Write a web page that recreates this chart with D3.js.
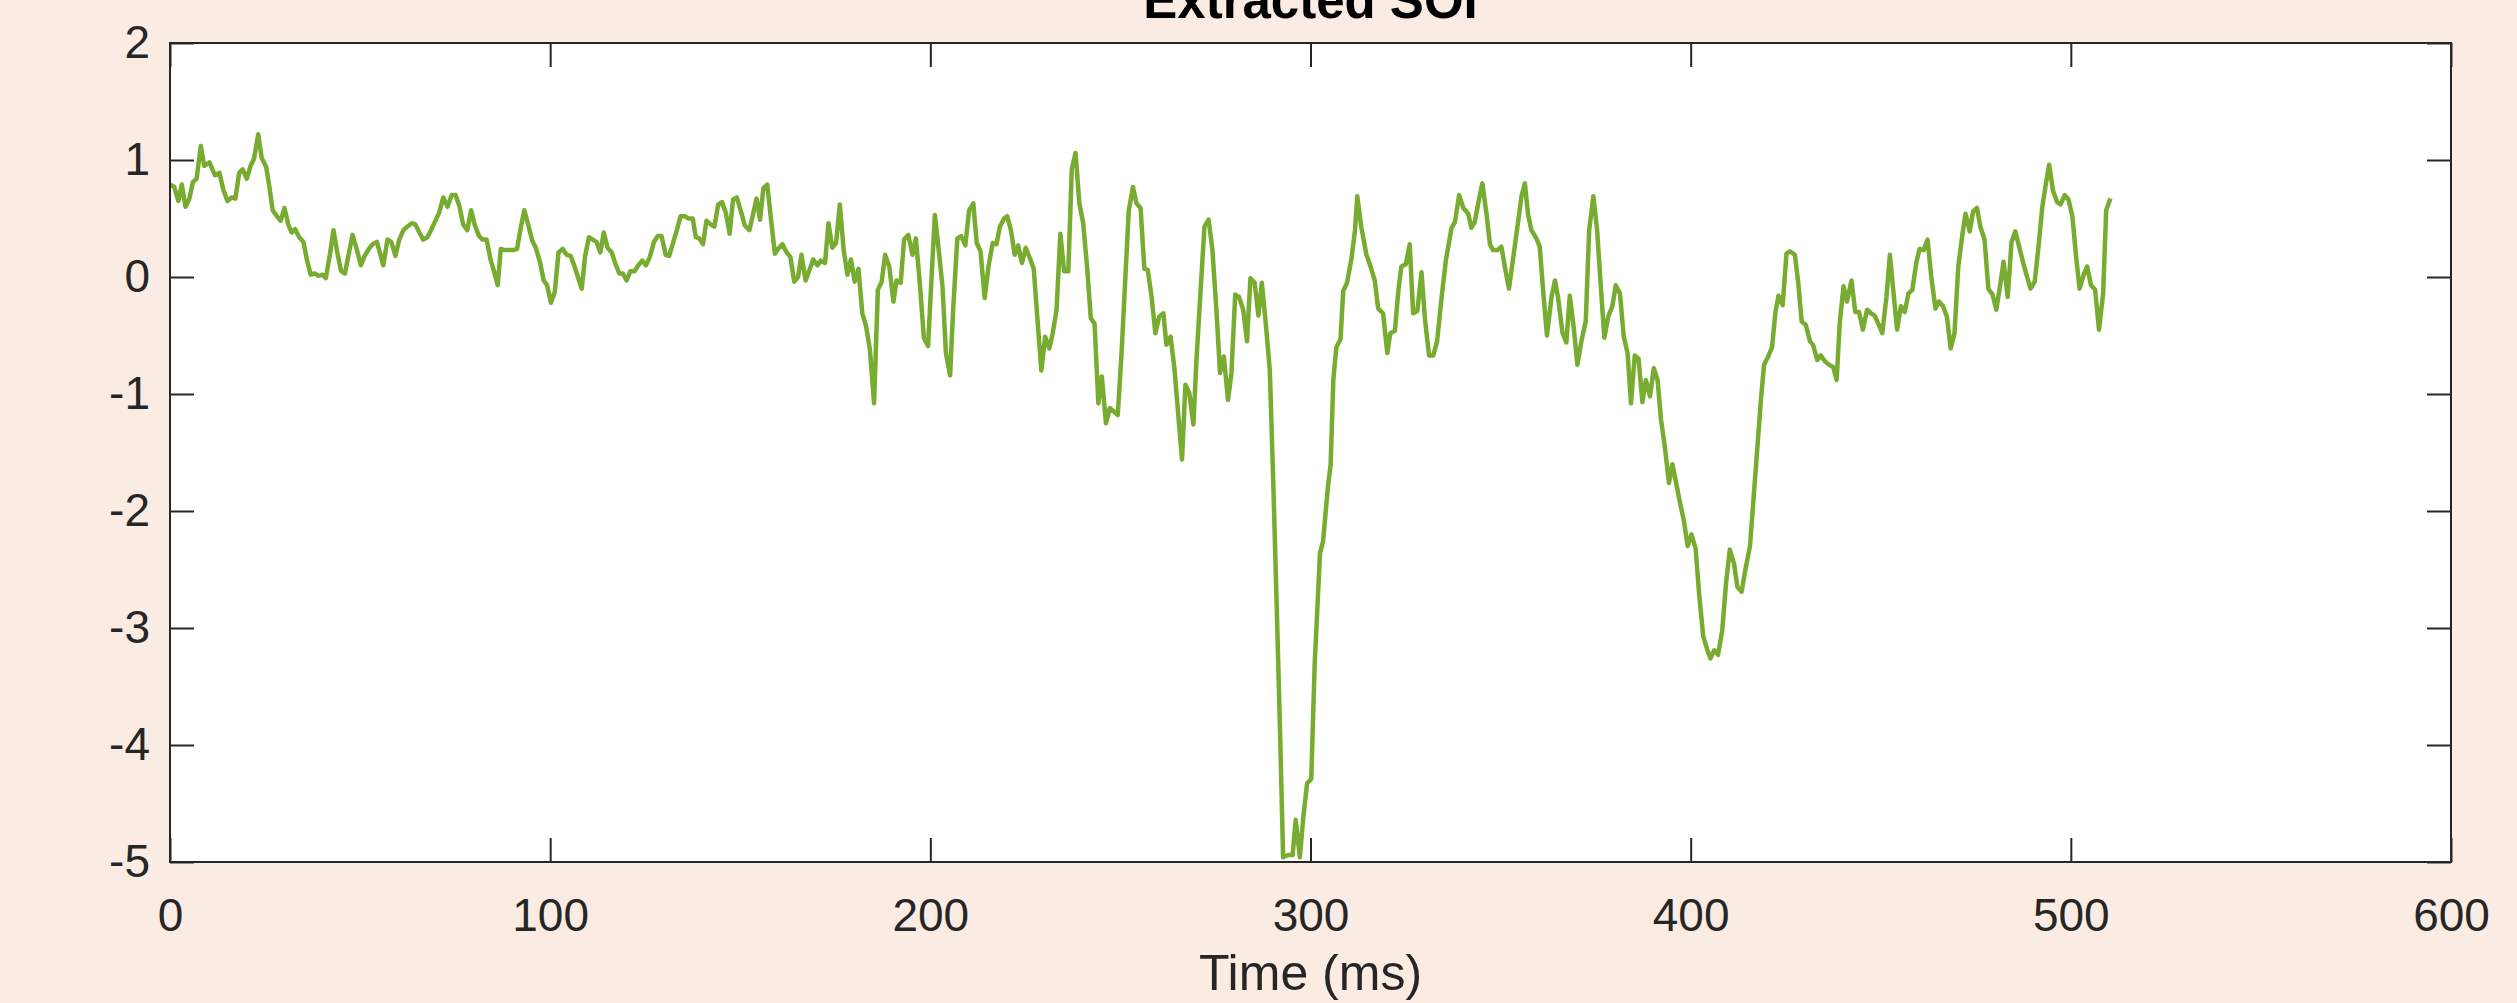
<!DOCTYPE html>
<html>
<head>
<meta charset="utf-8">
<script src="https://cdn.jsdelivr.net/npm/d3@7"></script>
<style>
  body { margin: 0; background: #fbece3; }
  svg { display: block; }
  .tick text { font-family: "Liberation Sans", Arial, Helvetica, sans-serif; font-size: 46px; fill: #262626; }
  .tick line { stroke: #262626; stroke-width: 2; }
</style>
</head>
<body>
<div id="chart"></div>
<script>
// Series (time in ms, extracted SOI amplitude)
const timeMs = [
  0, 1.1, 2.2, 3.1, 4.1, 5.1, 6.0, 7.0, 8.1, 9.0,
  10.4, 11.8, 13.0, 14.0, 15.1, 16.2, 17.2, 18.2, 19.1, 20.2,
  21.2, 22.1, 23.2, 24.1, 25.3, 26.1, 27.0, 28.1, 29.1, 30.1,
  31.1, 32.0, 32.9, 34.0, 35.1, 36.0, 37.0, 38.1, 39.1, 40.2,
  41.0, 42.1, 43.0, 44.0, 45.0, 46.0, 47.1, 48.0, 49.1, 50.2,
  51.2, 52.3, 53.3, 54.4, 55.2, 56.1, 57.2, 58.2, 59.3, 60.3,
  61.4, 62.4, 63.6, 64.5, 65.6, 66.6, 67.7, 68.8, 69.8, 70.8,
  71.9, 73.0, 74.1, 75.1, 76.1, 77.1, 78.2, 79.2, 80.2, 81.3,
  82.2, 83.3, 84.3, 85.3, 86.2, 87.0, 88.1, 89.2, 90.3, 91.3,
  92.2, 93.2, 94.2, 95.3, 96.2, 97.3, 98.3, 99.2, 100.2, 101.2,
  102.2, 103.3, 104.3, 105.4, 106.3, 107.3, 108.3, 109.2, 110.2, 111.2,
  112.2, 113.2, 114.1, 115.1, 116.2, 117.2, 118.2, 119.1, 120.1, 121.1,
  122.2, 123.2, 124.2, 125.2, 126.2, 127.3, 128.3, 129.3, 130.4, 131.3,
  132.4, 133.4, 134.3, 135.4, 136.4, 137.5, 138.3, 139.2, 140.2, 141.1,
  142.2, 143.2, 144.2, 145.2, 146.2, 147.2, 148.1, 149.1, 150.1, 151.2,
  152.4, 153.4, 154.3, 155.2, 156.1, 157.1, 158.0, 159.1, 160.2, 161.1,
  162.2, 163.2, 164.2, 165.2, 166.1, 167.2, 168.2, 169.2, 170.3, 171.2,
  172.3, 173.2, 174.2, 175.2, 176.2, 177.2, 178.2, 179.1, 180.1, 181.1,
  182.1, 183.1, 184.1, 185.2, 186.2, 187.2, 188.1, 189.2, 190.3, 191.1,
  192.2, 193.1, 194.2, 195.3, 196.2, 197.3, 198.3, 199.4, 200.2, 201.2,
  202.3, 203.2, 204.1, 205.2, 206.0, 207.1, 208.1, 209.2, 210.2, 211.3,
  212.2, 213.2, 214.3, 215.3, 216.4, 217.4, 218.3, 219.4, 220.2, 221.2,
  222.2, 223.1, 224.1, 225.1, 226.2, 227.2, 228.2, 229.2, 230.2, 231.3,
  232.2, 233.2, 234.2, 235.2, 236.3, 237.2, 238.2, 239.2, 240.2, 241.3,
  242.2, 243.2, 244.2, 245.1, 246.2, 247.2, 248.3, 249.3, 250.3, 251.4,
  252.2, 253.3, 254.2, 255.3, 256.3, 257.2, 258.2, 259.2, 260.2, 261.3,
  262.1, 263.2, 264.2, 265.2, 266.2, 267.1, 268.1, 269.2, 270.0, 271.1,
  272.1, 273.2, 274.2, 275.3, 276.2, 277.2, 278.3, 279.2, 280.2, 281.2,
  282.3, 283.3, 284.2, 285.3, 286.3, 287.2, 288.3, 289.3, 290.2, 291.1,
  292.0, 292.8, 294.1, 295.3, 296.1, 297.2, 298.1, 299.1, 300.2, 301.1,
  302.5, 303.3, 304.6, 305.3, 306.0, 306.8, 307.9, 308.6, 309.6, 310.8,
  311.7, 312.3, 313.4, 314.7, 315.6, 316.9, 317.8, 319.1, 320.2, 321.0,
  322.2, 323.1, 323.9, 325.1, 326.1, 327.0, 328.1, 329.2, 330.1, 331.2,
  332.3, 333.3, 334.5, 335.6, 337.1, 338.0, 339.1, 340.2, 341.5, 342.3,
  343.2, 344.3, 345.2, 346.3, 347.2, 348.0, 349.2, 350.2, 351.1, 352.2,
  353.3, 354.6, 355.5, 356.4, 357.2, 358.1, 359.4, 360.3, 361.2, 362.2,
  363.4, 364.3, 365.1, 366.3, 367.3, 368.2, 369.3, 370.2, 371.3, 372.4,
  373.3, 374.4, 375.4, 376.3, 377.3, 378.3, 379.4, 380.3, 381.4, 382.4,
  383.4, 384.3, 385.3, 386.3, 387.3, 388.2, 389.3, 390.3, 391.3, 392.2,
  393.2, 394.3, 395.2, 396.3, 397.2, 398.2, 399.2, 400.2, 401.3, 402.2,
  403.3, 404.4, 405.2, 406.2, 407.2, 408.3, 409.3, 410.3, 411.4, 412.3,
  413.4, 414.4, 415.6, 416.5, 417.5, 418.5, 419.3, 420.4, 421.4, 422.3,
  423.1, 424.2, 425.2, 426.1, 427.4, 428.3, 429.2, 430.3, 431.4, 432.2,
  433.3, 434.2, 435.3, 436.4, 437.5, 438.4, 439.2, 440.2, 441.1, 442.3,
  443.3, 444.3, 445.3, 446.4, 447.4, 448.4, 449.5, 450.4, 451.5, 452.4,
  453.2, 454.3, 455.3, 456.3, 457.3, 458.3, 459.4, 460.2, 461.3, 462.3,
  463.3, 464.4, 465.3, 466.4, 467.4, 468.4, 469.4, 470.4, 471.5, 472.3,
  473.4, 474.3, 475.3, 476.2, 477.3, 478.3, 479.4, 480.4, 481.5, 482.3,
  483.4, 484.4, 485.4, 486.4, 487.4, 488.5, 489.4, 490.5, 491.5, 492.5,
  493.4, 494.3, 495.3, 496.4, 497.3, 498.4, 499.4, 500.4, 501.4, 502.3,
  503.4, 504.3, 505.3, 506.4, 507.4, 508.5, 509.3, 510.4
];

const soiValues = [
  0.79, 0.77, 0.65, 0.79, 0.60, 0.67, 0.81, 0.84, 1.12, 0.95,
  0.98, 0.87, 0.89, 0.75, 0.65, 0.68, 0.67, 0.89, 0.92, 0.84,
  0.95, 1.01, 1.22, 1.02, 0.94, 0.78, 0.57, 0.52, 0.48, 0.59,
  0.45, 0.38, 0.41, 0.34, 0.30, 0.15, 0.02, 0.03, 0.01, 0.02,
  -0.01, 0.20, 0.40, 0.21, 0.05, 0.03, 0.21, 0.36, 0.24, 0.10,
  0.18, 0.24, 0.28, 0.30, 0.21, 0.10, 0.32, 0.30, 0.18, 0.32,
  0.40, 0.43, 0.46, 0.45, 0.38, 0.32, 0.34, 0.41, 0.48, 0.55,
  0.68, 0.60, 0.70, 0.70, 0.61, 0.45, 0.40, 0.57, 0.44, 0.35,
  0.32, 0.32, 0.15, 0.04, -0.07, 0.24, 0.23, 0.23, 0.23, 0.24,
  0.41, 0.57, 0.45, 0.31, 0.25, 0.13, -0.03, -0.07, -0.22, -0.13,
  0.21, 0.24, 0.19, 0.18, 0.10, 0.00, -0.10, 0.18, 0.34, 0.32,
  0.30, 0.21, 0.38, 0.25, 0.21, 0.11, 0.03, 0.03, -0.03, 0.05,
  0.05, 0.10, 0.14, 0.10, 0.17, 0.30, 0.35, 0.35, 0.19, 0.18,
  0.30, 0.41, 0.52, 0.52, 0.50, 0.50, 0.34, 0.33, 0.28, 0.48,
  0.45, 0.43, 0.62, 0.64, 0.55, 0.37, 0.66, 0.68, 0.57, 0.44,
  0.40, 0.54, 0.67, 0.49, 0.76, 0.79, 0.52, 0.20, 0.25, 0.28,
  0.21, 0.17, -0.04, 0.00, 0.19, -0.03, 0.06, 0.15, 0.10, 0.14,
  0.12, 0.46, 0.25, 0.29, 0.62, 0.23, 0.02, 0.15, -0.04, 0.07,
  -0.31, -0.42, -0.62, -1.08, -0.11, -0.04, 0.19, 0.09, -0.21, -0.03,
  -0.05, 0.32, 0.36, 0.19, 0.33, -0.08, -0.52, -0.59, -0.08, 0.53,
  0.20, -0.08, -0.65, -0.84, -0.28, 0.33, 0.35, 0.27, 0.57, 0.63,
  0.29, 0.22, -0.18, 0.09, 0.29, 0.28, 0.43, 0.50, 0.52, 0.40,
  0.19, 0.27, 0.12, 0.25, 0.16, 0.07, -0.37, -0.80, -0.51, -0.61,
  -0.48, -0.28, 0.37, 0.05, 0.05, 0.92, 1.06, 0.63, 0.46, 0.06,
  -0.35, -0.40, -1.08, -0.85, -1.25, -1.12, -1.15, -1.18, -0.65, 0.06,
  0.57, 0.77, 0.63, 0.59, 0.07, 0.06, -0.17, -0.48, -0.34, -0.31,
  -0.58, -0.51, -0.78, -1.17, -1.56, -0.92, -0.99, -1.26, -0.71, -0.11,
  0.43, 0.49, 0.23, -0.31, -0.82, -0.68, -1.05, -0.82, -0.15, -0.17,
  -0.28, -0.55, -0.01, -0.05, -0.33, -0.05, -0.42, -0.80, -1.75, -2.80,
  -3.90, -4.96, -4.94, -4.94, -4.64, -4.96, -4.62, -4.33, -4.29, -3.31,
  -2.36, -2.26, -1.79, -1.60, -0.88, -0.60, -0.53, -0.12, -0.05, 0.16,
  0.40, 0.69, 0.42, 0.19, 0.11, -0.03, -0.27, -0.31, -0.65, -0.48,
  -0.46, -0.12, 0.09, 0.11, 0.28, -0.31, -0.29, 0.04, -0.36, -0.67,
  -0.67, -0.55, -0.17, 0.14, 0.42, 0.47, 0.70, 0.59, 0.54, 0.42,
  0.47, 0.66, 0.80, 0.54, 0.28, 0.23, 0.23, 0.26, 0.09, -0.10,
  0.16, 0.47, 0.69, 0.80, 0.54, 0.40, 0.33, 0.26, -0.12, -0.50,
  -0.17, -0.03, -0.17, -0.48, -0.56, -0.16, -0.45, -0.75, -0.54, -0.38,
  0.40, 0.69, 0.40, -0.05, -0.52, -0.34, -0.25, -0.07, -0.14, -0.51,
  -0.65, -1.08, -0.67, -0.70, -1.07, -0.88, -1.02, -0.78, -0.88, -1.22,
  -1.45, -1.76, -1.60, -1.78, -1.93, -2.08, -2.30, -2.20, -2.32, -2.70,
  -3.07, -3.19, -3.26, -3.19, -3.23, -3.02, -2.62, -2.33, -2.45, -2.65,
  -2.69, -2.50, -2.30, -1.91, -1.48, -1.04, -0.75, -0.68, -0.60, -0.30,
  -0.16, -0.24, 0.20, 0.22, 0.19, -0.05, -0.38, -0.41, -0.55, -0.58,
  -0.71, -0.67, -0.72, -0.75, -0.77, -0.88, -0.40, -0.08, -0.21, -0.03,
  -0.30, -0.30, -0.45, -0.28, -0.31, -0.33, -0.41, -0.48, -0.17, 0.19,
  -0.08, -0.45, -0.25, -0.30, -0.14, -0.11, 0.13, 0.24, 0.23, 0.32,
  0.00, -0.27, -0.21, -0.25, -0.34, -0.61, -0.48, 0.09, 0.37, 0.54,
  0.39, 0.56, 0.59, 0.43, 0.32, -0.10, -0.15, -0.28, -0.05, 0.13,
  -0.17, 0.30, 0.39, 0.26, 0.13, 0.00, -0.10, -0.04, 0.26, 0.60,
  0.79, 0.96, 0.74, 0.64, 0.62, 0.70, 0.66, 0.52, 0.17, -0.10,
  0.02, 0.09, -0.07, -0.11, -0.45, -0.14, 0.57, 0.67
];

const xTicks = [0, 100, 200, 300, 400, 500, 600];
const yTicks = [-5, -4, -3, -2, -1, 0, 1, 2];
const titleText = "Extracted SOI";
const xLabelText = "Time (ms)";

const width = 2517, height = 1003;
const margin = {top: 43, right: 66, bottom: 141, left: 170};
const axisColor = "#262626";
const tickLen = 24;

const data = timeMs.map((t, i) => ({t, v: soiValues[i]}));

const svg = d3.select("#chart").append("svg")
    .attr("width", width)
    .attr("height", height);

svg.append("rect").attr("width", width).attr("height", height).attr("fill", "#fbece3");

const x = d3.scaleLinear().domain([0, 600]).range([margin.left, width - margin.right]);
const y = d3.scaleLinear().domain([-5, 2]).range([height - margin.bottom, margin.top]);

// plot area
svg.append("rect")
    .attr("x", x(0)).attr("y", y(2))
    .attr("width", x(600) - x(0)).attr("height", y(-5) - y(2))
    .attr("fill", "#ffffff");

svg.append("clipPath").attr("id", "plotClip")
    .append("rect")
    .attr("x", x(0)).attr("y", y(2))
    .attr("width", x(600) - x(0)).attr("height", y(-5) - y(2));

// the signal
const line = d3.line().x(d => x(d.t)).y(d => y(d.v));
svg.append("path")
    .datum(data)
    .attr("clip-path", "url(#plotClip)")
    .attr("d", line)
    .attr("fill", "none")
    .attr("stroke", "#77ac30")
    .attr("stroke-width", 4.5)
    .attr("stroke-linejoin", "round");

// axes, ticks pointing inward on all four sides
const fmt = d => String(d);
const gx = svg.append("g").attr("transform", `translate(0,${y(-5)})`)
    .call(d3.axisBottom(x).tickValues(xTicks).tickFormat(fmt).tickSize(-tickLen).tickSizeOuter(0).tickPadding(36));
const gy = svg.append("g").attr("transform", `translate(${x(0)},0)`)
    .call(d3.axisLeft(y).tickValues(yTicks).tickFormat(fmt).tickSize(-tickLen).tickSizeOuter(0).tickPadding(20));
const gt = svg.append("g").attr("transform", `translate(0,${y(2)})`)
    .call(d3.axisTop(x).tickValues(xTicks).tickFormat("").tickSize(-tickLen).tickSizeOuter(0));
const gr = svg.append("g").attr("transform", `translate(${x(600)},0)`)
    .call(d3.axisRight(y).tickValues(yTicks).tickFormat("").tickSize(-tickLen).tickSizeOuter(0));

[gx, gy, gt, gr].forEach(g => g.select(".domain").remove());

// box
svg.append("rect")
    .attr("x", x(0)).attr("y", y(2))
    .attr("width", x(600) - x(0)).attr("height", y(-5) - y(2))
    .attr("fill", "none")
    .attr("stroke", axisColor)
    .attr("stroke-width", 2);

// title (partly cut off at the top, as in the figure)
svg.append("text")
    .attr("x", (x(0) + x(600)) / 2)
    .attr("y", 18)
    .attr("text-anchor", "middle")
    .style("font-family", "'Liberation Sans', Arial, Helvetica, sans-serif")
    .style("font-size", "51px")
    .style("font-weight", "bold")
    .attr("fill", "#000000")
    .text(titleText);

// x label
svg.append("text")
    .attr("x", (x(0) + x(600)) / 2)
    .attr("y", 990)
    .attr("text-anchor", "middle")
    .style("font-family", "'Liberation Sans', Arial, Helvetica, sans-serif")
    .style("font-size", "50px")
    .attr("fill", axisColor)
    .text(xLabelText);
</script>
</body>
</html>
